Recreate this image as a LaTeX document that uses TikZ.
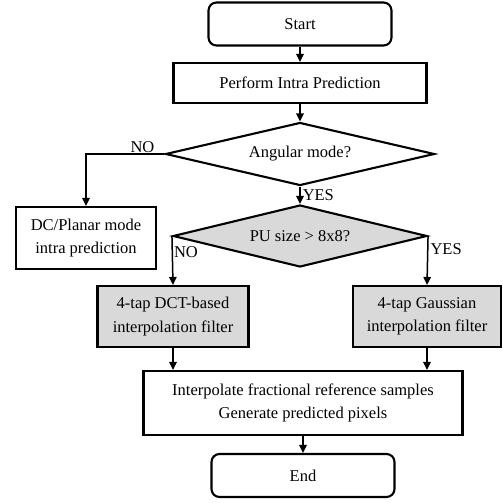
\documentclass[tikz,border=0pt]{standalone}
\usepackage{fontspec}
\setmainfont{Liberation Serif}
\usetikzlibrary{shapes.geometric,arrows.meta}
\begin{document}
\begin{tikzpicture}[x=1pt,y=-1pt,
  font=\fontsize{16.5}{23.5}\selectfont,
  box/.style={draw, line width=2.1pt, align=center, inner sep=2pt},
  term/.style={box, rounded corners=8pt, minimum width=183pt, minimum height=43pt},
  decide/.style={draw, diamond, line width=2.1pt, inner sep=0pt, shape aspect=4},
  shade/.style={fill=black!15},
  flow/.style={line width=1.5pt, -{Triangle[length=8pt,width=7.5pt]}}]
\useasboundingbox (0,0) rectangle (503,503);
\node[term] (start) at (300,24) {Start};
\node[box, minimum width=253pt, minimum height=40pt] (perform) at (300,83) {Perform Intra Prediction};
\node[decide, minimum width=269pt, minimum height=63pt] (angular) at (300,154) {Angular mode?};
\node[box, minimum width=140pt, minimum height=62pt] (dc) at (86,238) {DC/Planar mode\\intra prediction};
\node[decide, shade, minimum width=254pt, minimum height=62pt] (pu) at (300,236) {PU size > 8x8?};
\node[box, shade, minimum width=151pt, minimum height=61pt] (dct) at (173,316.5) {4-tap DCT-based\\interpolation filter};
\node[box, shade, minimum width=148pt, minimum height=61pt] (gauss) at (427,316.5) {4-tap Gaussian\\interpolation filter};
\node[box, minimum width=319pt, minimum height=64pt] (interp) at (303,403) {Interpolate fractional reference samples\\Generate predicted pixels};
\node[term] (end) at (303,475.5) {End};
\draw[flow] (start) -- (perform);
\draw[flow] (perform) -- (angular);
\draw[flow] (angular.west) -| node[pos=0.14, above, inner sep=1pt]{NO} (dc.north);
\draw[flow] (angular.south) -- node[midway, right, inner sep=2pt]{YES} (pu.north);
\draw[flow] (pu.west) -- node[pos=0.32, right, inner sep=1pt]{NO} (dct.north);
\draw[flow] (pu.east) -- node[pos=0.26, right, inner sep=2pt]{YES} (gauss.north);
\draw[flow] (dct.south) -- (dct.south |- interp.north);
\draw[flow] (gauss.south) -- (gauss.south |- interp.north);
\draw[flow] (interp) -- (end);
\end{tikzpicture}
\end{document}
